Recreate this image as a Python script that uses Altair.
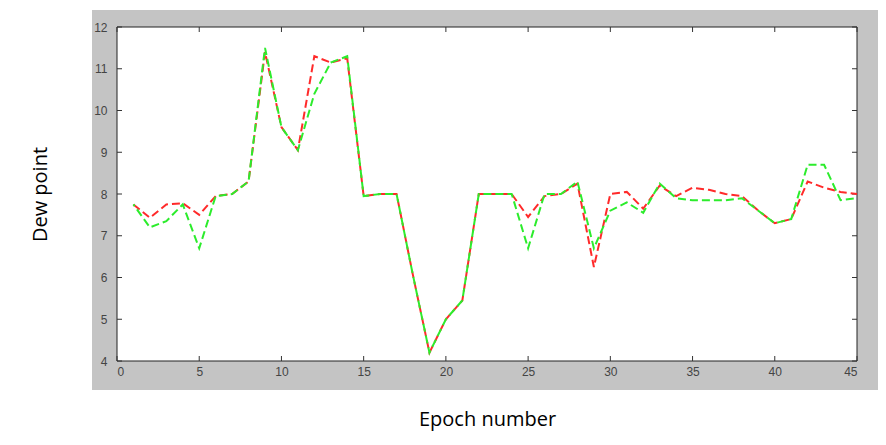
import altair as alt
import pandas as pd

epochs = list(range(1, 46))
red_vals = [7.75, 7.43, 7.75, 7.78, 7.5, 7.95, 8.0, 8.3, 11.4, 9.6,
            9.05, 11.3, 11.15, 11.25, 7.95, 8.0, 8.0, 6.05, 4.2, 5.0,
            5.45, 8.0, 8.0, 8.0, 7.45, 7.95, 8.0, 8.25, 6.25, 8.0,
            8.05, 7.65, 8.2, 7.95, 8.15, 8.1, 8.0, 7.95, 7.6, 7.3,
            7.4, 8.3, 8.15, 8.05, 8.0]
green_vals = [7.75, 7.2, 7.35, 7.75, 6.7, 7.95, 8.0, 8.3, 11.5, 9.6,
              9.05, 10.4, 11.15, 11.3, 7.95, 8.0, 8.0, 6.05, 4.2, 5.0,
              5.45, 8.0, 8.0, 8.0, 6.7, 8.0, 8.0, 8.3, 6.7, 7.6,
              7.8, 7.55, 8.25, 7.9, 7.85, 7.85, 7.85, 7.9, 7.6, 7.3,
              7.4, 8.7, 8.7, 7.85, 7.9]
x_ticks = [0, 5, 10, 15, 20, 25, 30, 35, 40, 45]
y_ticks = [4, 5, 6, 7, 8, 9, 10, 11, 12]

red_df = pd.DataFrame({"Epoch": epochs, "Dew": red_vals})
green_df = pd.DataFrame({"Epoch": epochs, "Dew": green_vals})
xt_df = pd.DataFrame({"Epoch": x_ticks})
yt_df = pd.DataFrame({"Dew": y_ticks})
one = pd.DataFrame({"a": [0]})

W, H = 740, 334
xscale = alt.Scale(domain=[0, 45], nice=False, zero=False)
yscale = alt.Scale(domain=[4, 12], nice=False, zero=False)

x_axis = alt.Axis(values=x_ticks, ticks=False, tickSize=0, domain=False, grid=False,
                  labelFont="Liberation Sans", labelFontSize=12, labelColor="#444",
                  labelPadding=5, title="Epoch number", titleFont="Open Sans",
                  titleFontSize=20, titleFontWeight="normal", titleColor="#000",
                  titleX=370, titleY=58, titleAlign="center", titleBaseline="middle",
                  zindex=1)
y_axis = alt.Axis(values=y_ticks, ticks=False, tickSize=0, domain=False, grid=False,
                  labelFont="Liberation Sans", labelFontSize=12, labelColor="#444",
                  labelPadding=10, title="Dew point", titleFont="Open Sans",
                  titleFontSize=20, titleFontWeight="normal", titleColor="#000",
                  titleX=-77, titleY=167, titleAngle=270, titleAlign="center",
                  titleBaseline="middle", zindex=1)

X = alt.X("Epoch:Q", scale=xscale, axis=x_axis)
Y = alt.Y("Dew:Q", scale=yscale, axis=y_axis)

frame = alt.Chart(one).mark_rect(fill="#c4c4c4").encode(
    x=alt.value(-25), x2=alt.value(W + 21), y=alt.value(-17), y2=alt.value(H + 29)
)
plot_bg = alt.Chart(one).mark_rect(fill="white", stroke="#222", strokeWidth=1).encode(
    x=alt.value(0), x2=alt.value(W), y=alt.value(0), y2=alt.value(H)
)

tick_col = "#333"
xb = alt.Chart(xt_df).mark_rule(color=tick_col).encode(
    x=X, y=alt.value(H), y2=alt.value(H - 5))
xtp = alt.Chart(xt_df).mark_rule(color=tick_col).encode(
    x=X, y=alt.value(0), y2=alt.value(5))
yl = alt.Chart(yt_df).mark_rule(color=tick_col).encode(
    y=Y, x=alt.value(0), x2=alt.value(5))
yr = alt.Chart(yt_df).mark_rule(color=tick_col).encode(
    y=Y, x=alt.value(W - 5), x2=alt.value(W))

red = alt.Chart(red_df).mark_line(color="#ff2a2a", strokeWidth=2, strokeDash=[8, 4]).encode(
    x=X, y=Y)
green = alt.Chart(green_df).mark_line(color="#2cec2c", strokeWidth=2, strokeDash=[8, 4],
                                      strokeDashOffset=6).encode(x=X, y=Y)

chart = alt.layer(frame, plot_bg, xb, xtp, yl, yr, red, green).properties(
    width=W, height=H,
    autosize=alt.AutoSizeParams(type="none"),
    padding={"left": 109, "top": 19, "right": 21, "bottom": 80},
).configure_view(stroke=None)

chart.save("out.html", embed_options={"renderer": "svg", "actions": False})
